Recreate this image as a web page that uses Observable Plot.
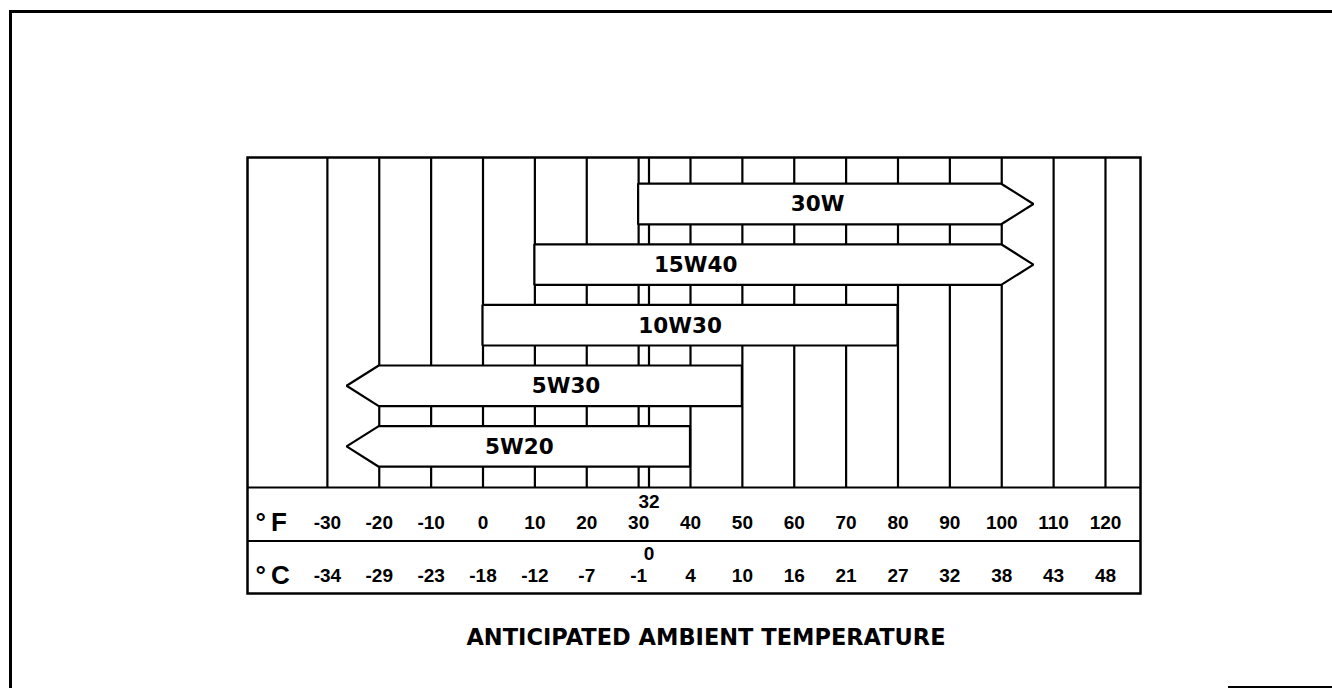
<!DOCTYPE html>
<html>
<head>
<meta charset="utf-8">
<script src="https://cdn.jsdelivr.net/npm/d3@7"></script>
<script src="https://cdn.jsdelivr.net/npm/@observablehq/plot@0.6"></script>
<style>
  html, body { margin: 0; padding: 0; background: #fff; }
  #wrap { position: relative; width: 1332px; height: 688px; overflow: hidden; background: #fff; }
  #chart { position: absolute; left: 0; top: 0; }
  .edge { position: absolute; background: #000; }
</style>
</head>
<body>
<div id="wrap">
  <div id="chart"></div>
  <div class="edge" style="left:9px;top:10px;width:1323px;height:3px;"></div>
  <div class="edge" style="left:9px;top:10px;width:3px;height:678px;"></div>
  <div class="edge" style="left:1228px;top:686px;width:104px;height:2px;"></div>
</div>
<script>
// ---- data ----
const grades   = ["30W", "15W40", "10W30", "5W30", "5W20"];
const minF     = [30, 10, 0, -20, -20];
const maxF     = [100, 100, 80, 50, 40];
const openSide = ["right", "right", "none", "left", "left"];
const labelF   = [64.5, 41, 38, 16, 7];
const ticksF   = [-30, -20, -10, 0, 10, 20, 30, 40, 50, 60, 70, 80, 90, 100, 110, 120];
const ticksC   = [-34, -29, -23, -18, -12, -7, -1, 4, 10, 16, 21, 27, 32, 38, 43, 48];
const freezeF  = 32;
const freezeC  = 0;
const unitLabels = ["°\u2009F", "°\u2009C"];
const gridF    = [...ticksF, freezeF];
const title    = "ANTICIPATED AMBIENT TEMPERATURE";

// ---- layout (row units for y, °F for x) ----
const X_DOMAIN = [-45.4, 126.75];
const Y_TOP = -0.7756, Y_BOT = 6.419;
const GRID_BOTTOM = 4.670, FC_DIV = 5.553;
const F_ROW = 5.248, C_ROW = 6.130, F32_ROW = 4.90, C0_ROW = 5.767, TITLE_ROW = 7.145;
const HALF = 0.335, TIP = 6.2;

const arrowPts = [];
grades.forEach((g, i) => {
  const top = i - HALF, bot = i + HALF;
  if (openSide[i] === "left") arrowPts.push({g, x: minF[i] - TIP, y1: i, y2: i});
  arrowPts.push({g, x: minF[i], y1: top, y2: bot});
  arrowPts.push({g, x: maxF[i], y1: top, y2: bot});
  if (openSide[i] === "right") arrowPts.push({g, x: maxF[i] + TIP, y1: i, y2: i});
});
const arrowLabels = grades.map((g, i) => ({g, x: labelF[i], y: i}));
const unitRows = [{t: unitLabels[0], y: F_ROW}, {t: unitLabels[1], y: C_ROW}];

const bold = {fontWeight: "bold", fill: "black"};
const numFont = "Liberation Sans, Arial, sans-serif";
const wideFont = "DejaVu Sans, sans-serif";

const chart = Plot.plot({
  width: 1332,
  height: 688,
  marginLeft: 247,
  marginRight: 192,
  marginTop: 157,
  marginBottom: 95,
  style: {background: "transparent", color: "black", overflow: "visible"},
  x: {domain: X_DOMAIN, axis: null},
  y: {domain: [Y_TOP, Y_BOT], reverse: true, axis: null},
  marks: [
    Plot.ruleX(gridF, {x: d => d, y1: Y_TOP, y2: GRID_BOTTOM, stroke: "black", strokeWidth: 2.2}),
    Plot.ruleY([GRID_BOTTOM, FC_DIV], {y: d => d, stroke: "black", strokeWidth: 2.2}),
    Plot.areaY(arrowPts, {x: "x", y1: "y1", y2: "y2", z: "g", fill: "white", stroke: "black", strokeWidth: 2.2, strokeLinejoin: "miter"}),
    Plot.text(arrowLabels, {x: "x", y: "y", text: "g", fontSize: 21.5, fontFamily: wideFont, ...bold}),
    Plot.text(ticksF, {x: d => d, y: F_ROW, text: d => String(d), fontSize: 19, fontFamily: numFont, ...bold}),
    Plot.text(ticksF, {x: d => d, y: C_ROW, text: (d, i) => String(ticksC[i]), fontSize: 19, fontFamily: numFont, ...bold}),
    Plot.text([freezeF], {x: d => d, y: F32_ROW, text: d => String(d), fontSize: 19, fontFamily: numFont, ...bold}),
    Plot.text([freezeC], {x: () => freezeF, y: C0_ROW, text: d => String(d), fontSize: 19, fontFamily: numFont, ...bold}),
    Plot.text(unitRows, {frameAnchor: "left", y: "y", dx: 8, textAnchor: "start", text: "t", fontSize: 26, fontFamily: numFont, ...bold}),
    Plot.text([title], {frameAnchor: "middle", y: TITLE_ROW, dx: 12, text: d => d, fontSize: 22.5, fontFamily: wideFont, ...bold}),
    Plot.frame({stroke: "black", strokeWidth: 2.5})
  ]
});
document.getElementById("chart").appendChild(chart);
</script>
</body>
</html>
